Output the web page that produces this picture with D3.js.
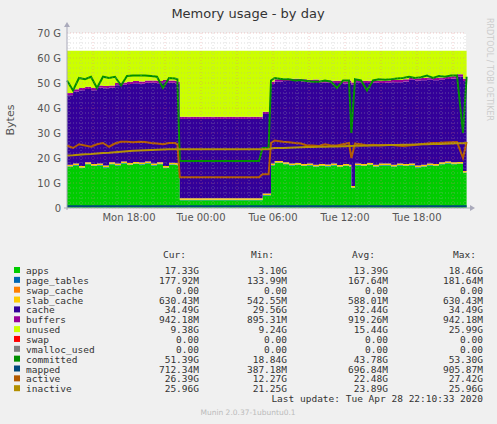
<!DOCTYPE html>
<html><head><meta charset="utf-8">
<script src="https://cdn.jsdelivr.net/npm/d3@7"></script>
<style>body{margin:0;background:#f0f0f0}</style>
</head><body><svg id="c" width="497" height="424"></svg>
<script>
// hours since Mon 12:50
const times = [0,0.5,1,1.5,2,2.5,3,3.5,4,4.5,5,5.5,6,6.5,7,7.5,8,8.5,9,9.2,9.4,10,11,12,13,14,15,16,16.3,16.8,17.0,17.3,
  18,18.5,19,19.5,20,20.5,21,21.5,22,22.5,23,23.5,23.7,24,24.5,25,25.5,26,26.5,27,27.5,28,28.5,29,29.5,30,30.5,31,31.5,32,32.5,33,33.3];
const apps = [16.5,17,16,17.5,16.8,17,16.2,17.5,17,17.8,17.2,17.6,17.4,17.8,17,17.5,16,17.3,17.2,17,3.1,3.1,3.1,3.1,3.1,3.1,3.1,3.1,5,5,17,18,
  17.5,17,17.2,16.8,17,16.5,16.8,16.6,17,16.4,16.8,16.5,8,17,16.8,17.2,16.5,17,17,16.5,17,16.8,17,16.2,16.5,17,16.8,17.5,17.8,17.5,17.6,14,17.3];
const cache = [27.8,28.8,30.3,29.3,29.5,30.3,30.9,29.8,31.3,30.7,31.6,31.5,31.5,31.5,32.3,31.6,33.5,32,31.9,31.8,31.7,31.7,31.7,31.7,31.7,31.7,31.7,31.7,31.8,31.8,31.8,31.8,
  32.5,33,32.8,33,32.5,33.2,32.5,32.8,32.2,32.8,32.2,32.8,40.5,32.5,32.4,32,32.8,32.2,32.3,33,32.5,33,33.5,34,33.8,33.5,33.5,33,33,33.5,34.2,36,34.5];
const committed = [51,47,52,51.5,52.5,48,52.5,52,52.5,49,52.8,53,53,53,52.8,52.5,48,52,51.8,51.5,18.8,18.8,18.8,18.8,18.8,18.8,18.8,18.8,24,24,51,52,
  51.5,51.5,51,51.2,50.8,50.5,50.5,51,50.5,48,51,51,30,51.5,51,47,51,51.5,51.3,51.5,51.8,52,52.5,52,52.3,53,52,52.8,52.5,53,53,30,52.5];
const active = [25,24,25.5,25,24.5,25.5,26,24.5,25.8,26.5,26.5,26.3,26.5,26.4,26,25.8,25.5,26,26,25.5,12.3,12.3,12.3,12.3,12.3,12.3,12.3,12.3,13.5,13.5,26,27,
  26.5,26.3,26,25.8,25,25,24.8,25.5,25,25,25.5,26,20,25.8,25.5,25,25.3,25,25.2,25.2,25,24.8,25,25.2,25.5,25.8,26,26,26.2,26.3,26.4,20,26.4];
const inactive = [21,21.1,21.3,21.5,21.6,21.8,22,22.1,22.3,22.5,22.7,22.9,23,23.1,23.2,23.3,23.4,23.5,23.5,23.5,23.5,23.5,23.5,23.5,23.5,23.5,23.5,23.5,23.5,23.5,23.8,24,
  24,24.1,24.2,24.3,24.4,24.4,24.5,24.5,24.6,24.6,24.7,24.8,24.8,24.9,24.9,25,25,25.1,25.1,25.2,25.2,25.3,25.3,25.4,25.5,25.5,25.6,25.6,25.7,25.8,25.9,25.9,25.96];
const pageTables = 0.17, slabCache = 0.6, buffers = 0.92, mapped = 0.7, total = 62.9;

const legendRows = [
  ["apps","#00CC00","17.33G","3.10G","13.39G","18.46G"],
  ["page_tables","#0066B3","177.92M","133.99M","167.64M","181.64M"],
  ["swap_cache","#FF8000","0.00","0.00","0.00","0.00"],
  ["slab_cache","#FFCC00","630.43M","542.55M","588.01M","630.43M"],
  ["cache","#330099","34.49G","29.56G","32.44G","34.49G"],
  ["buffers","#990099","942.18M","895.31M","919.26M","942.18M"],
  ["unused","#CCFF00","9.38G","9.24G","15.44G","25.99G"],
  ["swap","#FF0000","0.00","0.00","0.00","0.00"],
  ["vmalloc_used","#808080","0.00","0.00","0.00","0.00"],
  ["committed","#008F00","51.39G","18.84G","43.78G","53.30G"],
  ["mapped","#00487D","712.34M","387.18M","696.84M","905.87M"],
  ["active","#B35A00","26.39G","12.27G","22.48G","27.42G"],
  ["inactive","#B38F00","25.96G","21.25G","23.89G","25.96G"]
];
const yTicks = [0,10,20,30,40,50,60,70];
const xTicks = [[5.17,"Mon 18:00"],[11.17,"Tue 00:00"],[17.17,"Tue 06:00"],[23.17,"Tue 12:00"],[29.17,"Tue 18:00"]];

const svg = d3.select("#c");
const L = 67, R = 466, T = 33, B = 208;
const x = d3.scaleLinear().domain([0, 33.25]).range([L, R]);
const y = d3.scaleLinear().domain([0, 70]).range([B, T]);

svg.append("text").attr("x", 248).attr("y", 18).attr("text-anchor", "middle")
  .attr("font-family", "DejaVu Sans").attr("font-size", 13).attr("fill", "#333").text("Memory usage - by day");
svg.append("rect").attr("x", L).attr("y", T).attr("width", R - L).attr("height", B - T).attr("fill", "#fff");

// stacked areas
const rows = times.map((t, i) => ({ t, apps: apps[i], page_tables: pageTables, swap_cache: 0, slab_cache: slabCache,
  cache: cache[i], buffers: buffers, unused: total - apps[i] - pageTables - slabCache - cache[i] - buffers }));
const keys = ["apps","page_tables","swap_cache","slab_cache","cache","buffers","unused"];
const colors = { apps:"#00CC00", page_tables:"#0066B3", swap_cache:"#FF8000", slab_cache:"#FFCC00", cache:"#330099", buffers:"#990099", unused:"#CCFF00" };
const stack = d3.stack().keys(keys)(rows);
const area = d3.area().x(d => x(d.data.t)).y0(d => y(d[0])).y1(d => y(d[1])).curve(d3.curveStepAfter);
svg.append("g").selectAll("path").data(stack).join("path").attr("d", area).attr("fill", d => colors[d.key]);

const line = d3.line().x(d => x(d[0])).y(d => y(d[1])).curve(d3.curveLinear);
[[committed,"#008F00"],[times.map(() => mapped),"#00487D"],[active,"#B35A00"],[inactive,"#B38F00"]].forEach(([s, c]) => {
  svg.append("path").attr("d", line(times.map((t, i) => [t, s[i]]))).attr("fill", "none").attr("stroke", c).attr("stroke-width", 2);
});

// grid (drawn over the data, as rrdtool does)
const g = svg.append("g").attr("stroke-dasharray", "1,2").attr("stroke-width", 0.6);
for (let v = 0; v <= 70; v += 2) g.append("line").attr("x1", L).attr("x2", R).attr("y1", y(v)).attr("y2", y(v))
  .attr("stroke", v % 10 === 0 ? "#e08080" : "#b0b0b0").attr("stroke-opacity", 0.7);
for (let h = 0.17; h < 33.3; h += 1) g.append("line").attr("y1", T).attr("y2", B).attr("x1", x(h)).attr("x2", x(h))
  .attr("stroke", Math.round(h - 0.17) % 3 === 2 ? "#e08080" : "#b0b0b0").attr("stroke-opacity", 0.7);

// axes
svg.append("line").attr("x1", L - 3).attr("x2", R + 4).attr("y1", B).attr("y2", B).attr("stroke", "#aab");
svg.append("line").attr("x1", L).attr("x2", L).attr("y1", B + 2).attr("y2", T - 6).attr("stroke", "#aab");
svg.append("path").attr("d", `M${R+4},${B-3}L${R+9},${B}L${R+4},${B+3}Z`).attr("fill", "#aab");
svg.append("path").attr("d", `M${L-3},${T-6}L${L},${T-11}L${L+3},${T-6}Z`).attr("fill", "#aab");
const lab = svg.append("g").attr("font-family", "DejaVu Sans").attr("font-size", 10).attr("fill", "#555");
yTicks.forEach(v => lab.append("text").attr("x", 61).attr("y", y(v) + 4).attr("text-anchor", "end").text(v === 0 ? "0" : v + " G"));
xTicks.forEach(([h, s]) => lab.append("text").attr("x", x(h)).attr("y", 221).attr("text-anchor", "middle").text(s));
lab.append("text").attr("transform", "translate(14,120) rotate(-90)").attr("text-anchor", "middle").attr("font-size", 11).text("Bytes");
svg.append("text").attr("transform", "translate(487,18) rotate(90)").attr("font-family", "DejaVu Sans").attr("font-size", 8)
  .attr("fill", "#ccc").text("RRDTOOL / TOBI OETIKER");

// legend
const lg = svg.append("g").attr("font-family", "DejaVu Sans Mono").attr("font-size", 9.5).attr("fill", "#333");
const colX = [199, 287, 388, 483];
["Cur:","Min:","Avg:","Max:"].forEach((h, i) => lg.append("text").attr("x", colX[i] - 36 + (i === 3 ? 6 : 0)).attr("y", 258).text(h));
legendRows.forEach((r, i) => {
  const yy = 274 + i * 9.85;
  lg.append("rect").attr("x", 14).attr("y", yy - 7).attr("width", 6).attr("height", 6).attr("fill", r[1]);
  lg.append("text").attr("x", 26).attr("y", yy).text(r[0]);
  for (let k = 0; k < 4; k++) lg.append("text").attr("x", colX[k]).attr("y", yy).attr("text-anchor", "end").text(r[2 + k]);
});
lg.append("text").attr("x", 483).attr("y", 402).attr("text-anchor", "end").text("Last update: Tue Apr 28 22:10:33 2020");
svg.append("text").attr("x", 248).attr("y", 415).attr("text-anchor", "middle").attr("font-family", "DejaVu Sans")
  .attr("font-size", 7.5).attr("fill", "#bbb").text("Munin 2.0.37-1ubuntu0.1");
</script></body></html>
